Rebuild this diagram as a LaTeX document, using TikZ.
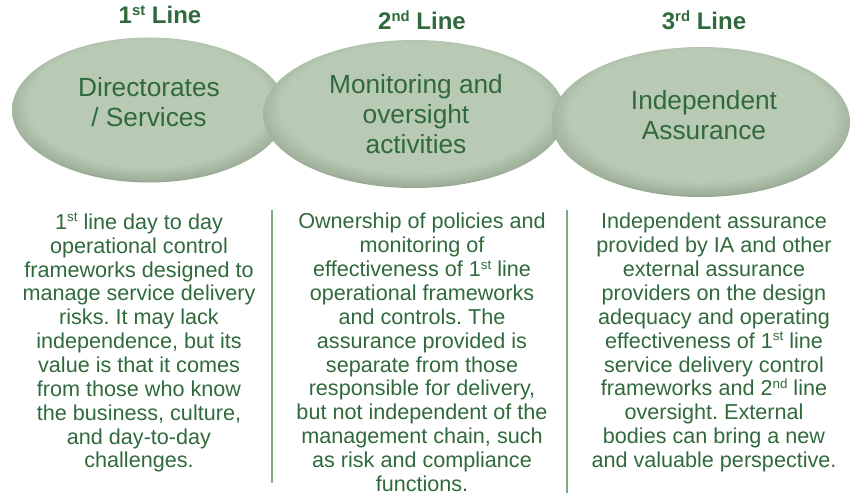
\documentclass[tikz,border=0pt]{standalone}
\usepackage{fontspec}
\usepackage{graphicx}
\setmainfont{Liberation Sans}
\usetikzlibrary{shapes.geometric}

\definecolor{sagelight}{RGB}{184,201,180}
\definecolor{sagemid}{RGB}{158,176,154}
\definecolor{sagedark}{RGB}{108,126,104}
\definecolor{leafgreen}{RGB}{47,105,60}
\definecolor{rulegreen}{RGB}{125,170,130}

% small raised ordinal suffix
\newcommand{\ordsup}[1]{\raisebox{0.34em}{\scalebox{0.62}{#1}}}

% soft darker rim along the lower edge of each lens
\pgfdeclareradialshading{lensshade}{\pgfpoint{0bp}{4bp}}{color(0bp)=(sagelight); color(22bp)=(sagelight); color(26bp)=(sagemid); color(29bp)=(sagedark); color(50bp)=(sagedark)}

\frenchspacing

\begin{document}
\begin{tikzpicture}[x=0.75pt, y=-0.75pt, lens/.style={ellipse, shade, shading=lensshade, inner sep=0pt}, lenstext/.style={text=leafgreen, align=center, inner sep=0pt, font=\fontsize{19.7}{22.5}\selectfont}, head/.style={text=leafgreen, anchor=base, inner sep=0pt, font=\fontsize{18}{20}\selectfont\bfseries}, desc/.style={text=leafgreen, align=center, anchor=north, inner sep=0pt, font=\fontsize{16.2}{17.9}\selectfont}, divider/.style={rulegreen, line width=1.5pt}]

  \useasboundingbox (0,0) rectangle (852,495);

  % the three lines of defence
  \node[lens, minimum width=205.5pt, minimum height=108.75pt] (services) at (149,110) {};
  \node[lens, minimum width=226.5pt, minimum height=111pt] (oversight) at (414,114) {};
  \node[lens, minimum width=223.5pt, minimum height=112.5pt] (assurance) at (701,122) {};

  \node[lenstext] (servicesname) at (149,102.5) {Directorates\\/ Services};
  \node[lenstext] (oversightname) at (416,114) {Monitoring and\\oversight\\activities};
  \node[lenstext] (assurancename) at (704,115) {Independent\\Assurance};

  \node[head] (first) at (160,24) {1\ordsup{st} Line};
  \node[head] (second) at (422,30) {2\ordsup{nd} Line};
  \node[head] (third) at (704,30) {3\ordsup{rd} Line};

  % descriptions
  \node[desc] (firsttext) at (139,213) {1\ordsup{st} line day to day\\operational control\\frameworks designed to\\manage service delivery\\risks. It may lack\\independence, but its\\value is that it comes\\from those who know\\the business, culture,\\and day-to-day\\challenges.};
  \node[desc] (secondtext) at (422,213) {Ownership of policies and\\monitoring of\\effectiveness of 1\ordsup{st} line\\operational frameworks\\and controls. The\\assurance provided is\\separate from those\\responsible for delivery,\\but not independent of the\\management chain, such\\as risk and compliance\\functions.};
  \node[desc] (thirdtext) at (714,213) {Independent assurance\\provided by IA and other\\external assurance\\providers on the design\\adequacy and operating\\effectiveness of 1\ordsup{st} line\\service delivery control\\frameworks and 2\ordsup{nd} line\\oversight. External\\bodies can bring a new\\and valuable perspective.};

  \coordinate (rulea) at (272,210);
  \coordinate (ruleb) at (272,483);
  \coordinate (rulec) at (567,210);
  \coordinate (ruled) at (567,493);
  \draw[divider] (rulea) -- (ruleb);
  \draw[divider] (rulec) -- (ruled);
\end{tikzpicture}
\end{document}
